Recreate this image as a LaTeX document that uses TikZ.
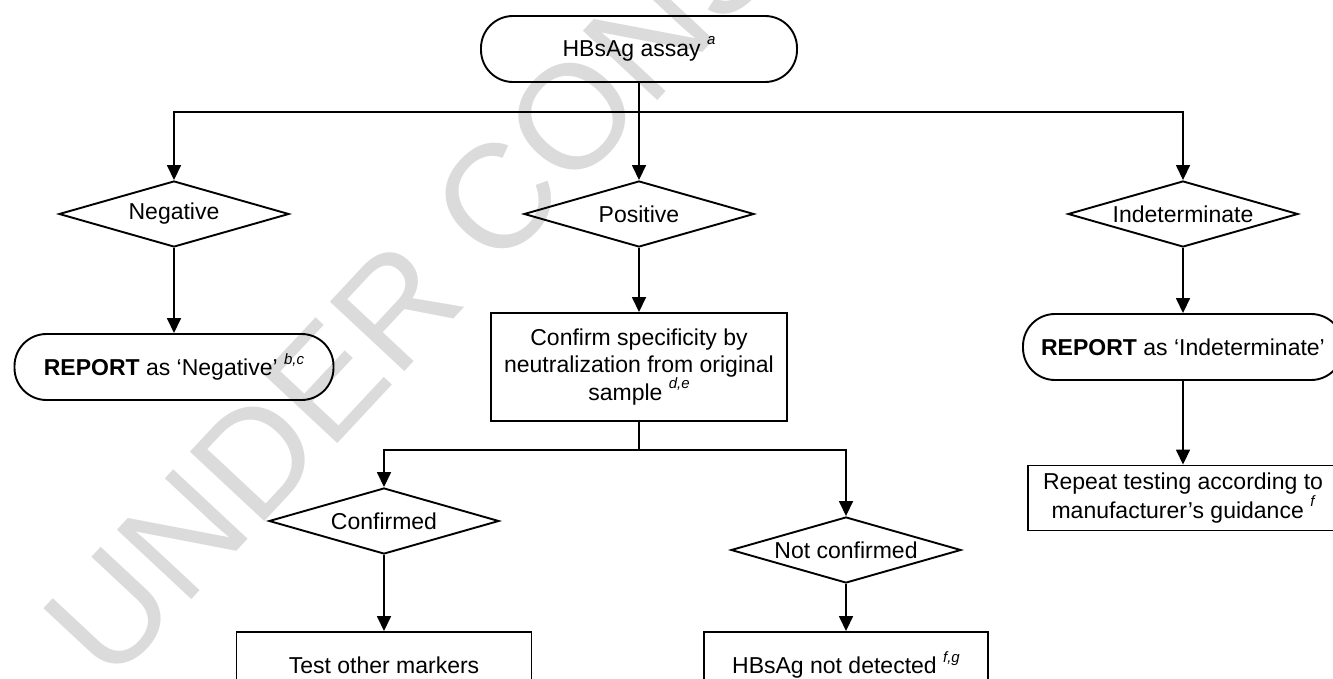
\documentclass[tikz,border=0pt]{standalone}
\usepackage{fontspec}
\setmainfont{Liberation Sans}
\usetikzlibrary{shapes.geometric,arrows.meta}
\newcommand\supnote[1]{\raisebox{0.5em}{\fontsize{15}{15}\selectfont\itshape #1}}
\begin{document}
\begin{tikzpicture}[x=1pt,y=-1pt,
  every node/.style={font=\fontsize{23}{26.5}\selectfont, line width=1.9pt},
  term/.style={draw, rectangle, rounded corners=32pt, minimum height=66pt, inner sep=0pt},
  proc/.style={draw, rectangle, inner sep=0pt, align=center},
  dec/.style={draw, diamond, aspect=3.48, minimum width=230pt, minimum height=66pt, inner sep=0pt},
  conn/.style={line width=1.6pt},
  arr/.style={conn, -{Triangle[length=15pt,width=14pt]}}]
\clip (0,0) rectangle (1333,679);
\node[anchor=base west, rotate=47, text=black!14, font=\fontsize{148}{148}\selectfont] (wm) at (108,690) {UNDER CONS};

\node[term, minimum width=316pt] (start) at (639,49) {HBsAg assay \supnote{a}};
\node[dec] (neg) at (174,214) {Negative};
\node[dec] (pos) at (639,214) {Positive};
\node[dec] (ind) at (1183,214) {Indeterminate};
\node[term, minimum width=319pt] (repneg) at (174,367) {\textbf{REPORT} as ‘Negative’ \supnote{b,c}};
\node[proc, minimum width=296pt, minimum height=108pt] (conf) at (639,367) {Confirm specificity by\\neutralization from original\\sample \supnote{d,e}};
\node[term, minimum width=320pt] (repind) at (1183,347) {\textbf{REPORT} as ‘Indeterminate’};
\node[proc, minimum width=310pt, minimum height=65pt] (repeat) at (1183,498) {Repeat testing according to\\manufacturer’s guidance \supnote{f}};
\node[dec] (cfd) at (384,521) {Confirmed};
\node[dec] (ncf) at (846,550) {Not confirmed};
\node[proc, minimum width=295pt, minimum height=66pt] (test) at (384,665) {Test other markers};
\node[proc, minimum width=284pt, minimum height=66pt] (notdet) at (846,665) {HBsAg not detected \supnote{f,g}};

\coordinate (j1) at (639,112);
\draw[conn] (start) -- (j1);
\draw[arr] (j1) -| (neg.north);
\draw[arr] (j1) -- (pos.north);
\draw[arr] (j1) -| (ind.north);
\draw[arr] (neg) -- (repneg);
\draw[arr] (pos) -- (conf);
\draw[arr] (ind) -- (repind);
\draw[arr] (repind) -- (repeat);
\coordinate (j2) at (639,450);
\draw[conn] (conf) -- (j2);
\draw[arr] (j2) -| (cfd.north);
\draw[arr] (j2) -| (ncf.north);
\draw[arr] (cfd) -- (test);
\draw[arr] (ncf) -- (notdet);
\end{tikzpicture}
\end{document}
